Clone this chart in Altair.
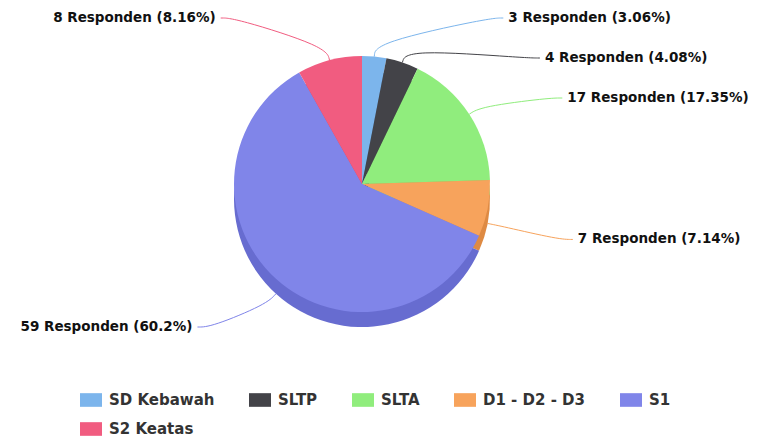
import math
import altair as alt
import pandas as pd

# ---- data ----
categories = ["SD Kebawah", "SLTP", "SLTA", "D1 - D2 - D3", "S1", "S2 Keatas"]
counts = [3, 4, 17, 7, 59, 8]
percents = ["3.06", "4.08", "17.35", "7.14", "60.2", "8.16"]

# ---- style ----
colors = ["#7cb5ec", "#434348", "#90ed7d", "#f7a35c", "#8085e9", "#f15c80"]


def darken(hx, d=25):
    r, g, b = int(hx[1:3], 16), int(hx[3:5], 16), int(hx[5:7], 16)
    return "#%02x%02x%02x" % (max(r - d, 0), max(g - d, 0), max(b - d, 0))


side_colors = [darken(c) for c in colors]

W, H = 758, 432
CX, CY = 354, 176
R_PIE, DEPTH = 128, 15
R_LABEL, RY_LABEL = 218, 290
Y_TOP, Y_BOT, GAP = 10, 319, 40
FONT = "DejaVu Sans"

# ---- label layout derived from the slice angles ----
total = sum(counts)
mids = []
acc = 0
for n in counts:
    mids.append((acc + n / 2) / total * 2 * math.pi)
    acc += n


def polar(r, a):
    return CX + r * math.sin(a), CY - r * math.cos(a)


label_y = {}
right = sorted([i for i in range(len(counts)) if mids[i] < math.pi], key=lambda i: mids[i])
left = sorted([i for i in range(len(counts)) if mids[i] >= math.pi], key=lambda i: -mids[i])
for group in (right, left):
    prev = None
    for i in group:
        y = max(CY - RY_LABEL * math.cos(mids[i]), Y_TOP)
        if prev is not None:
            y = max(y, prev + GAP)
        y = min(y, Y_BOT)
        label_y[i] = y
        prev = y

lab_rows, con_rows = [], []
for i, cat in enumerate(categories):
    y = label_y[i]
    dxa = math.sqrt(max(R_LABEL ** 2 - (y - CY) ** 2, 0))
    is_right = mids[i] < math.pi
    x = CX + dxa if is_right else CX - dxa
    sgn = 1 if is_right else -1
    lab_rows.append({"x": x + sgn * 5, "y": y,
                     "side": "r" if is_right else "l",
                     "text": f"{counts[i]} Responden ({percents[i]}%)"})
    shift = DEPTH if math.cos(mids[i]) < 0 else 0
    p0 = polar(R_PIE, mids[i])
    p1 = polar(R_PIE + 14, mids[i])
    pts = [(p0[0], p0[1] + shift), (p1[0], p1[1] + shift), (x - sgn * 14, y), (x, y)]
    for k, (px, py) in enumerate(pts):
        con_rows.append({"ccat": cat, "col": colors[i], "k": k, "px": px, "py": py})

df = pd.DataFrame({"cat": categories, "sidecol": side_colors, "n": counts,
                   "idx": list(range(len(counts)))})
lab = pd.DataFrame(lab_rows)
con = pd.DataFrame(con_rows)

xs = alt.Scale(domain=[0, W], nice=False, zero=False)
ys = alt.Scale(domain=[0, H], nice=False, zero=False, reverse=True)

side = alt.Chart(df).mark_arc(radius=R_PIE, strokeWidth=0).encode(
    theta=alt.Theta("n:Q", stack=True),
    order=alt.Order("idx:Q"),
    fill=alt.Fill("sidecol:N", scale=None),
    x=alt.value(CX), y=alt.value(CY + DEPTH),
)

top = alt.Chart(df).mark_arc(radius=R_PIE, strokeWidth=0).encode(
    theta=alt.Theta("n:Q", stack=True),
    order=alt.Order("idx:Q"),
    color=alt.Color("cat:N", scale=alt.Scale(domain=categories, range=colors),
                    legend=alt.Legend(title=None, orient="none", legendX=72, legendY=381,
                                      direction="horizontal", columns=5)),
    x=alt.value(CX), y=alt.value(CY),
)

connectors = alt.Chart(con).mark_line(interpolate="basis", strokeWidth=1).encode(
    x=alt.X("px:Q", scale=xs, axis=None),
    y=alt.Y("py:Q", scale=ys, axis=None),
    detail="ccat:N",
    order="k:Q",
    stroke=alt.Stroke("col:N", scale=None),
)

text_r = alt.Chart(lab).transform_filter(alt.datum.side == "r").mark_text(
    align="left", baseline="middle", font=FONT, fontSize=13.5, fontWeight="bold", color="#111111"
).encode(x=alt.X("x:Q", scale=xs, axis=None), y=alt.Y("y:Q", scale=ys, axis=None), text="text:N")

text_l = alt.Chart(lab).transform_filter(alt.datum.side == "l").mark_text(
    align="right", baseline="middle", font=FONT, fontSize=13.5, fontWeight="bold", color="#111111"
).encode(x=alt.X("x:Q", scale=xs, axis=None), y=alt.Y("y:Q", scale=ys, axis=None), text="text:N")

chart = alt.layer(side, top, connectors, text_r, text_l).properties(
    width=W, height=H, padding=0, autosize="none", background="white"
).configure_view(stroke=None).configure_legend(
    symbolType="M-1,-0.62H1V0.62H-1Z", symbolSize=484, symbolStrokeWidth=0,
    labelFont=FONT, labelFontSize=15, labelFontWeight="bold", labelColor="#333333",
    labelOffset=7, columnPadding=34, rowPadding=10, padding=0, gridAlign="each",
)

chart.save("out.html", embed_options={"renderer": "svg", "actions": False})
